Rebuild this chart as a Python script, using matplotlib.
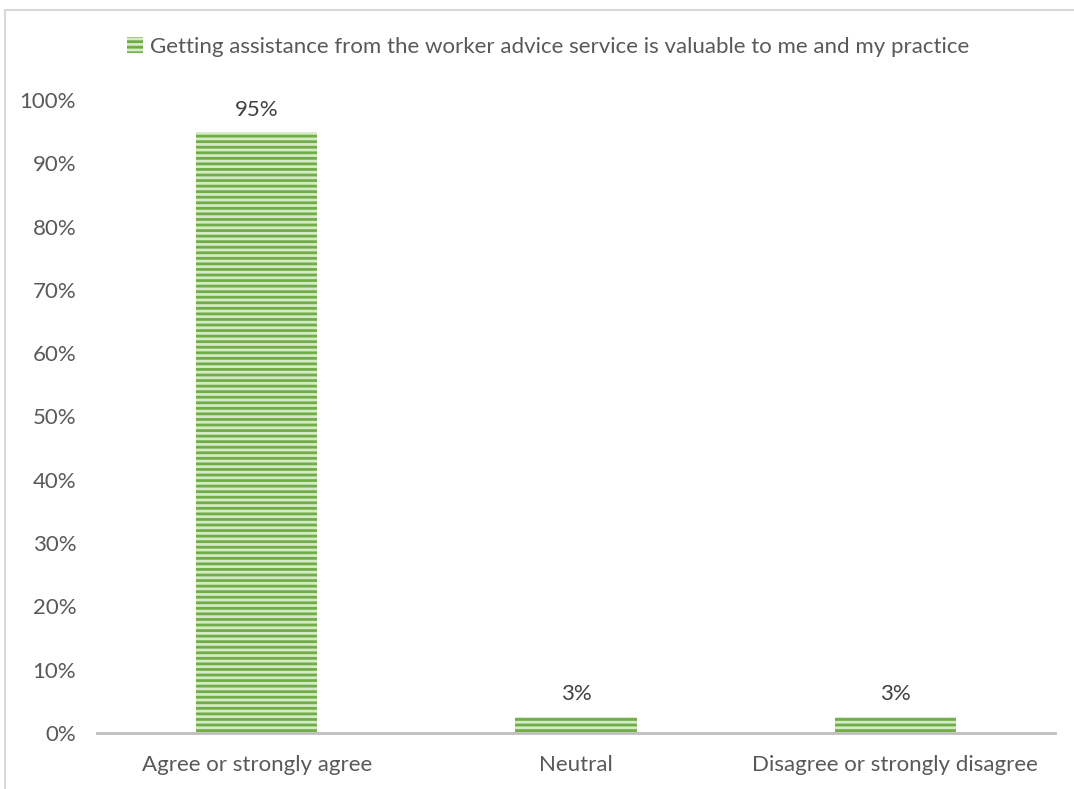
import matplotlib.pyplot as plt
from matplotlib.lines import Line2D

plt.rcParams['font.family'] = ['Lato', 'DejaVu Sans']
plt.rcParams['hatch.linewidth'] = 2.0

# survey responses (share of respondents, %)
categories = ['Agree or strongly agree', 'Neutral', 'Disagree or strongly disagree']
shares = [94.9, 2.56, 2.56]
series_name = 'Getting assistance from the worker advice service is valuable to me and my practice'
y_ticks = [0, 10, 20, 30, 40, 50, 60, 70, 80, 90, 100]

W, H = 1074, 789
fig = plt.figure(figsize=(W / 100, H / 100), dpi=100)
ax = fig.add_axes([97 / W, (H - 733) / H, (1055 - 97) / W, (733 - 100) / H])

bars = ax.bar(range(len(categories)), shares, width=0.38,
              color='#D5EAC6', edgecolor='#70AD47', linewidth=0, hatch='---')

for i, v in enumerate(shares):
    ax.text(i, v + 2.0, f'{v:.0f}%', ha='center', va='bottom',
            fontsize=16, color='#404040')

ax.set_xlim(-0.5, len(categories) - 0.5)
ax.set_ylim(0, 100)
ax.set_yticks(y_ticks)
ax.set_yticklabels([f'{t}%' for t in y_ticks])
ax.set_xticks(range(len(categories)))
ax.set_xticklabels(categories)
ax.tick_params(axis='both', length=0, labelsize=16, labelcolor='#595959')
ax.tick_params(axis='y', pad=15)
ax.tick_params(axis='x', pad=16)

for side in ['top', 'right', 'left']:
    ax.spines[side].set_visible(False)
ax.spines['bottom'].set_color('#BFBFBF')
ax.spines['bottom'].set_linewidth(2)

handle = plt.Rectangle((0, 0), 1, 1, facecolor='#D5EAC6', edgecolor='#70AD47',
                       linewidth=0, hatch='---')
fig.legend([handle], [series_name], loc='center', bbox_to_anchor=(548 / W, (H - 47) / H),
           frameon=False, fontsize=16, handlelength=0.75, handleheight=0.75,
           handletextpad=0.3, labelcolor='#595959')

# outer frame (top and left edges only)
fig.add_artist(Line2D([5 / W, 1], [1 - 9.5 / H, 1 - 9.5 / H], color='#D9D9D9', lw=1.5))
fig.add_artist(Line2D([5 / W, 5 / W], [0, 1 - 9.5 / H], color='#D9D9D9', lw=1.5))

fig.savefig('out.png', dpi=100)
